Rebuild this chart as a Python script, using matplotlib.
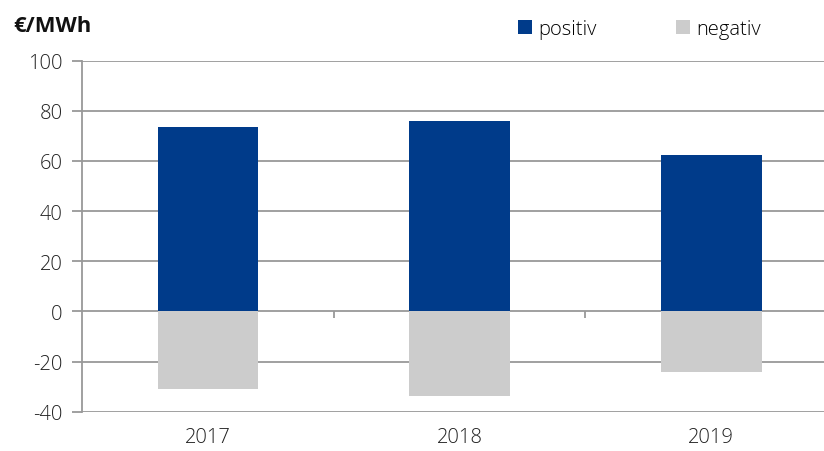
import matplotlib
matplotlib.use("Agg")
import matplotlib.pyplot as plt
import numpy as np

years = ["2017", "2018", "2019"]
positiv = [73.4, 75.8, 62.5]
negativ = [-31.1, -33.8, -24.2]
yticks = [-40, -20, 0, 20, 40, 60, 80, 100]

plt.rcParams['font.family'] = ['Open Sans', 'DejaVu Sans']
plt.rcParams['font.weight'] = 300

W, H = 824, 452
fig = plt.figure(figsize=(W / 100, H / 100), dpi=100)
ax = fig.add_axes([82 / W, (H - 412.7) / H, 1 - 82 / W, (412.7 - 61.7) / H])

x = np.arange(len(years))
bw = 100.5 / 251.7
blue = "#003B8A"
gray = "#CCCCCC"
ax.bar(x, positiv, width=bw, color=blue, zorder=3, label="positiv")
ax.bar(x, negativ, width=bw, color=gray, zorder=3, label="negativ")

fs = 14.5
ax.set_ylim(-40, 100)
ax.set_xlim(-0.5, -0.5 + (W - 82) / 251.7)
ax.set_yticks(yticks)
ax.set_yticklabels([str(v) for v in yticks], fontsize=fs, color="#222222", fontweight=300)
ax.yaxis.grid(True, color="#999999", linewidth=1.3, zorder=0)
ax.set_axisbelow(True)
ax.tick_params(axis='y', length=7, width=1.3, color="#999999", pad=7)

ax.set_xticks(x)
ax.set_xticklabels(years, fontsize=fs, color="#222222", fontweight=300)
ax.tick_params(axis='x', length=0, pad=11)

for s in ["top", "right", "bottom"]:
    ax.spines[s].set_visible(False)
ax.spines["left"].set_color("#999999")
ax.spines["left"].set_linewidth(1.3)

# category boundary ticks at zero line
bounds = x[:-1] + 0.5
ax.vlines(bounds, -2.6, 0, color="#999999", linewidth=1.3, zorder=2)

fig.text(13 / W, 1 - 27 / H, "€/MWh", fontsize=15.8, fontweight="bold",
         va="center", ha="left", color="#111111")

fig.legend(loc="center left", bbox_to_anchor=(518 / W, 1 - 30 / H), ncol=2,
           frameon=False, prop={'size': fs, 'weight': 300}, handlelength=0.7, handleheight=0.7,
           handletextpad=0.3, columnspacing=3.95, borderaxespad=0, borderpad=0)

fig.savefig("out.png", dpi=100)
